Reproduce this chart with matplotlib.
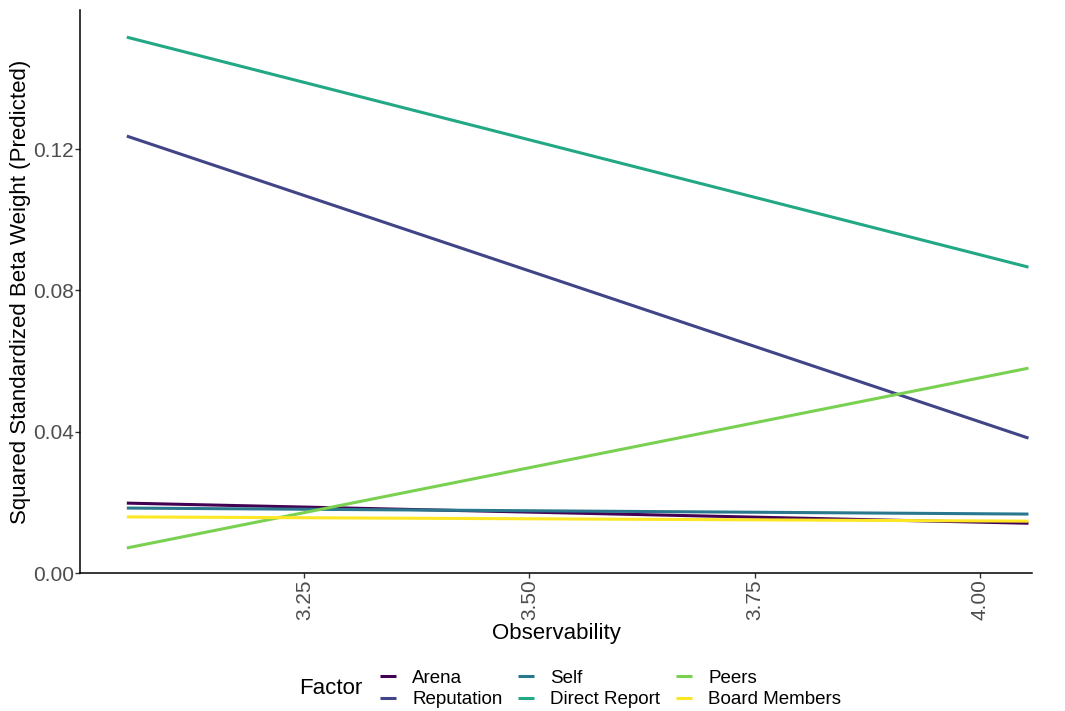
import numpy as np
import matplotlib
matplotlib.use("Agg")
import matplotlib.pyplot as plt

plt.rcParams["font.family"] = ["Liberation Sans", "DejaVu Sans"]

# Data (line endpoints, linear fits)
factors = ["Arena", "Reputation", "Self", "Direct Report", "Peers", "Board Members"]
colors = ["#440154", "#414487", "#2A788E", "#22A884", "#7AD151", "#FDE725"]
x_ends = [3.053, 4.054]
y_start = [0.0198, 0.1237, 0.0184, 0.1517, 0.0071, 0.0159]
y_end = [0.0141, 0.0382, 0.0167, 0.0866, 0.0580, 0.0147]

fig = plt.figure(figsize=(10.65, 7.11), dpi=100)
ax = fig.add_axes([0.0751, 0.194, 0.894, 0.792])

for name, c, y0, y1 in zip(factors, colors, y_start, y_end):
    ax.plot(x_ends, [y0, y1], color=c, linewidth=2.2, label=name,
            solid_capstyle="butt")

ax.set_xlim(3.001, 4.058)
ax.set_ylim(0, 0.1594)
ax.set_xticks([3.25, 3.50, 3.75, 4.00])
ax.set_xticklabels(["3.25", "3.50", "3.75", "4.00"], rotation=90)
ax.set_yticks([0.00, 0.04, 0.08, 0.12])
ax.set_yticklabels(["0.00", "0.04", "0.08", "0.12"])
ax.tick_params(axis="both", labelsize=15, colors="#333333", length=3.5,
               width=1, pad=1)
ax.tick_params(axis="both", labelcolor="#4D4D4D")
for s in ["top", "right"]:
    ax.spines[s].set_visible(False)
for s in ["left", "bottom"]:
    ax.spines[s].set_linewidth(1.1)
    ax.spines[s].set_color("black")

ax.set_xlabel("Observability", fontsize=16, labelpad=2)
ax.set_ylabel("Squared Standardized Beta Weight (Predicted)", fontsize=16,
              labelpad=1)

fig.text(0.281, 0.031, "Factor", fontsize=16, ha="left", va="center")
leg = fig.legend(loc="center left", bbox_to_anchor=(0.357, 0.031), ncol=3,
                 frameon=False, fontsize=13.5, handlelength=0.85,
                 handletextpad=0.85, columnspacing=0.85, labelspacing=0.25,
                 borderaxespad=0, borderpad=0)

fig.savefig("out.png", dpi=100)
